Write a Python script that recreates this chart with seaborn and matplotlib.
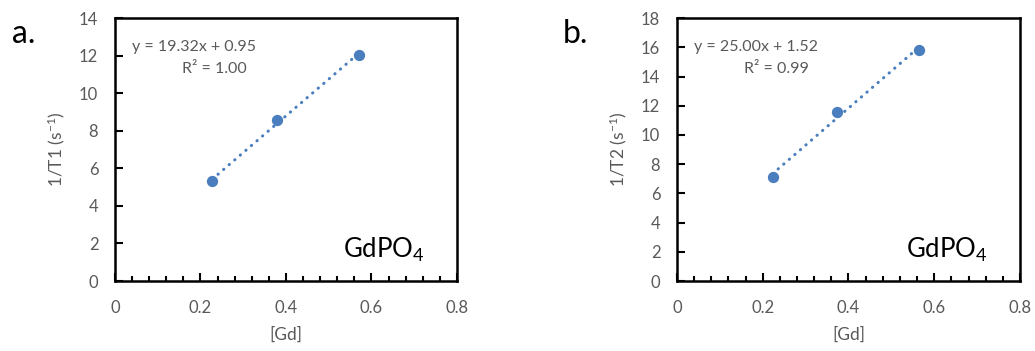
import seaborn as sns
import pandas as pd
import matplotlib.pyplot as plt
from matplotlib.ticker import MultipleLocator, FuncFormatter

# data
gd_a = [0.228, 0.379, 0.571]
r1 = [5.32, 8.58, 12.05]
gd_b = [0.223, 0.374, 0.564]
r2 = [7.12, 11.58, 15.82]

eq_a = ['y = 19.32x + 0.95', 'R² = 1.00']
eq_b = ['y = 25.00x + 1.52', 'R² = 0.99']

sns.set_style('white')
plt.rcParams['font.family'] = ['Lato', 'DejaVu Sans']
plt.rcParams['mathtext.fontset'] = 'custom'
plt.rcParams['mathtext.rm'] = 'Lato'
plt.rcParams['mathtext.it'] = 'Lato'

blue = '#4A7EBE'
grey = '#595959'

fig = plt.figure(figsize=(10.35, 3.51), dpi=100)
ax1 = fig.add_axes([0.1111, 0.1994, 0.3304, 0.749])
ax2 = fig.add_axes([0.6541, 0.1994, 0.3314, 0.749])

panels = [
    (ax1, gd_a, r1, eq_a, '1/T1 (s$^{-1}$)', 14, 'a.', 0.0116),
    (ax2, gd_b, r2, eq_b, '1/T2 (s$^{-1}$)', 18, 'b.', 0.544),
]

fmt = FuncFormatter(lambda v, p: '0' if abs(v) < 1e-9 else f'{v:.1f}')

for ax, x, y, eq, ylab, ymax, tag, tx in panels:
    df = pd.DataFrame({'x': x, 'y': y})
    sns.regplot(data=df, x='x', y='y', ax=ax, ci=None, scatter=False, truncate=True,
                color=blue, line_kws={'linestyle': (0, (0.1, 2.3)), 'lw': 2.2,
                                      'dash_capstyle': 'round'})
    sns.scatterplot(data=df, x='x', y='y', ax=ax, color=blue, s=66, edgecolor=blue,
                    linewidth=0, zorder=5)
    ax.set_xlim(0, 0.8)
    ax.set_ylim(0, ymax)
    ax.xaxis.set_major_locator(MultipleLocator(0.2))
    ax.xaxis.set_minor_locator(MultipleLocator(0.04))
    ax.xaxis.set_major_formatter(fmt)
    ax.yaxis.set_major_locator(MultipleLocator(2))
    ax.tick_params(axis='x', which='major', direction='in', length=6, width=1.5,
                   color='black', labelsize=12, labelcolor=grey, pad=14, bottom=True)
    ax.tick_params(axis='x', which='minor', direction='in', length=3.5, width=1.5,
                   color='black', bottom=True)
    ax.tick_params(axis='y', which='major', direction='in', length=6, width=1.5,
                   color='black', labelsize=12, labelcolor=grey, pad=12, left=True)
    for s in ax.spines.values():
        s.set_color('black')
        s.set_linewidth(1.8)
    ax.set_xlabel('[Gd]', fontsize=12.5, color=grey, labelpad=7)
    ax.set_ylabel(ylab, fontsize=12.5, color=grey, labelpad=9)
    ax.text(0.05, 0.875, eq[0], transform=ax.transAxes, fontsize=11.5, color=grey,
            ha='left', va='baseline')
    ax.text(0.195, 0.79, eq[1], transform=ax.transAxes, fontsize=11.5, color=grey,
            ha='left', va='baseline')
    ax.text(0.906, 0.09, 'GdPO$_4$', transform=ax.transAxes, fontsize=18.5,
            color='black', ha='right', va='baseline')
    fig.text(tx, 0.877, tag, fontsize=23, color='black', ha='left', va='baseline')

fig.savefig('out.png', dpi=100)
